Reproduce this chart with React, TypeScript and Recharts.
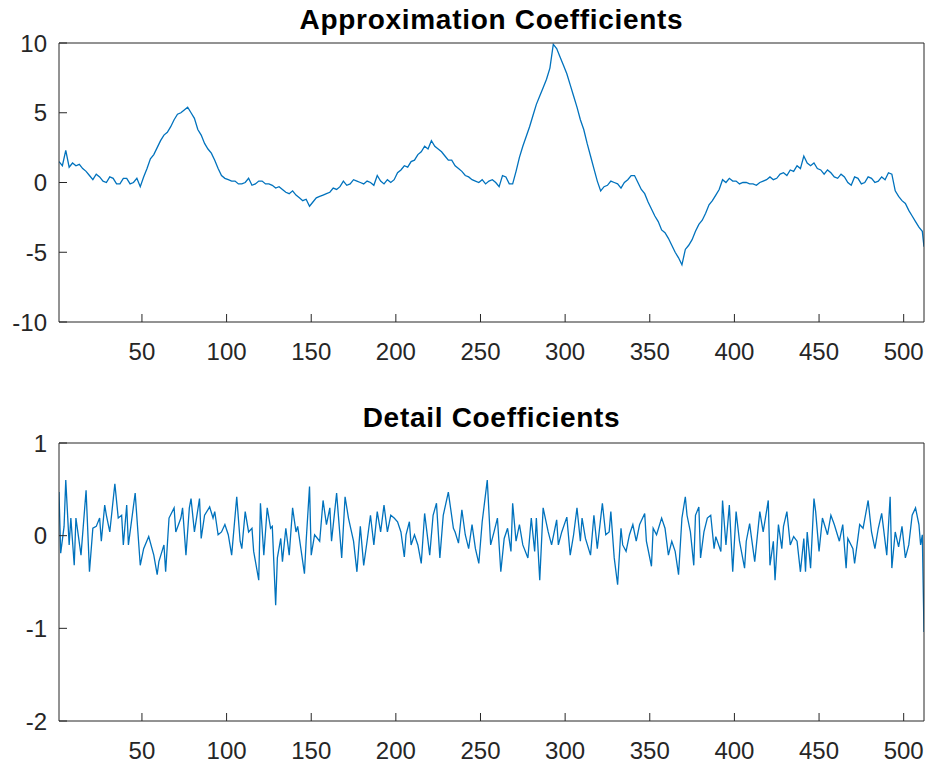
import { LineChart, Line, XAxis, YAxis } from 'recharts'

// sample index -> approximation coefficient
const approxIdx = [
  1, 3, 5, 7, 9, 11, 13, 15, 17, 19, 21, 23, 25, 27, 29, 31, 33, 35, 37, 39,
  41, 43, 45, 47, 49, 51, 53, 55, 57, 59, 61, 63, 65, 67, 69, 71, 73, 75, 77, 79,
  81, 83, 85, 87, 89, 91, 93, 95, 97, 99, 101, 103, 105, 107, 109, 111, 113, 115, 117, 119,
  121, 123, 125, 127, 129, 131, 133, 135, 137, 139, 141, 143, 145, 147, 149, 151, 153, 155, 157, 159,
  161, 163, 165, 167, 169, 171, 173, 175, 177, 179, 181, 183, 185, 187, 189, 191, 193, 195, 197, 199,
  201, 203, 205, 207, 209, 211, 213, 215, 217, 219, 221, 223, 225, 227, 229, 231, 233, 235, 237, 239,
  241, 243, 245, 247, 249, 251, 253, 255, 257, 259, 261, 263, 265, 267, 269, 271, 273, 275, 277, 279,
  281, 283, 285, 287, 289, 291, 293, 295, 297, 299, 301, 303, 305, 307, 309, 311, 313, 315, 317, 319,
  321, 323, 325, 327, 329, 331, 333, 335, 337, 339, 341, 343, 345, 347, 349, 351, 353, 355, 357, 359,
  361, 363, 365, 367, 369, 371, 373, 375, 377, 379, 381, 383, 385, 387, 389, 391, 393, 395, 397, 399,
  401, 403, 405, 407, 409, 411, 413, 415, 417, 419, 421, 423, 425, 427, 429, 431, 433, 435, 437, 439,
  441, 443, 445, 447, 449, 451, 453, 455, 457, 459, 461, 463, 465, 467, 469, 471, 473, 475, 477, 479,
  481, 483, 485, 487, 489, 491, 493, 495, 497, 499, 501, 503, 505, 507, 509, 511, 512,
]
const approxVal = [
  1.5, 1.2, 2.3, 1.1, 1.4, 1.2, 1.3, 1.0, 0.8, 0.5, 0.2, 0.6, 0.4, 0.1, 0.0, 0.4, 0.3, -0.1, -0.1, 0.3,
  0.3, -0.1, 0.0, 0.3, -0.3, 0.4, 1.0, 1.7, 2.0, 2.5, 3.0, 3.4, 3.6, 4.0, 4.5, 4.9, 5.0, 5.2, 5.4, 5.0,
  4.6, 3.8, 3.4, 2.8, 2.4, 2.1, 1.6, 1.0, 0.5, 0.3, 0.2, 0.1, 0.1, -0.1, -0.1, 0.0, 0.3, -0.2, -0.1, 0.1,
  0.1, -0.1, -0.1, -0.2, -0.4, -0.3, -0.5, -0.7, -0.8, -0.6, -0.9, -1.1, -1.3, -1.2, -1.7, -1.4, -1.1, -1.0, -0.9, -0.8,
  -0.7, -0.4, -0.5, -0.3, 0.1, -0.2, -0.1, 0.2, 0.1, 0.0, -0.1, 0.1, 0.0, -0.2, 0.5, 0.1, -0.1, 0.2, 0.0, 0.2,
  0.7, 0.9, 1.2, 1.1, 1.5, 1.6, 2.0, 2.2, 2.6, 2.4, 3.0, 2.6, 2.4, 2.2, 1.9, 1.6, 1.6, 1.2, 1.0, 0.8,
  0.5, 0.4, 0.2, 0.1, 0.0, 0.2, -0.1, 0.1, 0.2, 0.0, -0.3, 0.5, 0.4, -0.1, -0.1, 0.8, 1.8, 2.6, 3.3, 4.0,
  4.8, 5.6, 6.2, 6.8, 7.4, 8.2, 9.9, 9.6, 9.0, 8.4, 7.8, 7.0, 6.2, 5.4, 4.5, 3.8, 2.8, 1.9, 1.0, 0.1,
  -0.6, -0.3, -0.2, 0.1, 0.0, -0.1, -0.4, 0.0, 0.2, 0.5, 0.5, 0.0, -0.5, -0.8, -1.4, -1.9, -2.4, -2.8, -3.4, -3.6,
  -4.0, -4.5, -5.0, -5.4, -5.9, -4.8, -4.5, -4.1, -3.5, -3.0, -2.7, -2.2, -1.6, -1.3, -0.9, -0.5, 0.2, 0.0, 0.3, 0.1,
  0.1, -0.1, 0.0, 0.0, -0.1, -0.1, -0.2, 0.0, 0.1, 0.2, 0.4, 0.2, 0.3, 0.6, 0.7, 0.5, 0.9, 0.8, 1.2, 1.0,
  1.9, 1.4, 1.2, 1.4, 1.0, 0.9, 0.6, 0.9, 0.7, 0.4, 0.3, 0.6, 0.4, 0.0, -0.2, 0.4, 0.3, -0.1, 0.0, 0.4,
  0.3, 0.0, 0.1, 0.4, 0.2, 0.7, 0.6, -0.6, -1.0, -1.3, -1.5, -2.0, -2.4, -2.8, -3.2, -3.5, -4.6,
]

// sample index -> detail coefficient
const detailIdx = [
  1, 2, 4, 5, 7, 8, 10, 11, 14, 17, 19, 21, 23, 25, 26, 28, 29, 31, 34, 36,
  38, 39, 41, 42, 46, 49, 51, 54, 57, 59, 60, 63, 64, 66, 69, 70, 73, 74, 76, 78,
  79, 81, 84, 85, 87, 90, 92, 93, 95, 97, 99, 101, 103, 106, 108, 109, 111, 113, 115, 116,
  119, 120, 122, 124, 126, 127, 129, 130, 132, 133, 135, 137, 139, 141, 142, 146, 147, 149, 150, 152,
  155, 157, 159, 161, 162, 165, 168, 170, 172, 175, 177, 179, 181, 183, 185, 187, 189, 191, 193, 195,
  197, 199, 201, 203, 205, 206, 208, 209, 211, 213, 215, 217, 220, 222, 224, 226, 228, 231, 234, 235,
  237, 239, 241, 243, 245, 247, 249, 251, 254, 256, 258, 260, 262, 264, 266, 268, 269, 271, 273, 275,
  278, 280, 282, 283, 285, 287, 290, 292, 294, 295, 296, 298, 301, 303, 305, 307, 309, 310, 312, 315,
  317, 319, 322, 324, 326, 327, 329, 331, 333, 334, 336, 338, 340, 342, 344, 347, 348, 351, 352, 354,
  357, 359, 361, 363, 365, 367, 369, 371, 372, 374, 376, 377, 379, 380, 382, 384, 386, 388, 389, 392,
  393, 395, 397, 399, 401, 403, 406, 407, 409, 410, 412, 415, 417, 420, 421, 423, 424, 426, 428, 429,
  431, 433, 435, 437, 439, 441, 442, 443, 445, 447, 448, 450, 452, 455, 457, 459, 462, 464, 466, 467,
  470, 471, 474, 476, 479, 481, 483, 485, 487, 490, 492, 493, 495, 497, 499, 501, 503, 505, 507, 509,
  510, 511, 512,
]
const detailVal = [
  0.47, -0.19, 0.1, 0.6, -0.1, 0.19, -0.32, 0.19, -0.21, 0.49, -0.39, 0.08, 0.1, 0.19, -0.06, 0.33, 0.22, 0.04, 0.56, 0.19,
  0.22, -0.1, 0.33, -0.1, 0.46, -0.32, -0.14, -0.01, -0.21, -0.42, -0.28, -0.1, -0.39, 0.19, 0.3, 0.04, 0.19, 0.3, -0.21, 0.3,
  0.4, 0.04, 0.4, -0.03, 0.22, 0.31, 0.19, 0.26, 0.01, 0.04, 0.12, 0.01, -0.21, 0.42, -0.06, -0.14, 0.26, 0.04, 0.08, -0.17,
  -0.48, 0.35, -0.21, 0.3, 0.08, 0.1, -0.75, -0.24, -0.03, -0.28, 0.08, -0.21, 0.3, 0.04, 0.1, -0.41, -0.06, 0.53, -0.21, 0.01,
  -0.06, 0.38, 0.12, 0.3, -0.06, 0.46, -0.24, 0.42, 0.19, -0.06, -0.39, 0.1, -0.32, -0.06, 0.22, -0.1, 0.26, 0.04, 0.33, 0.04,
  0.22, 0.19, 0.15, 0.04, -0.23, 0.01, 0.15, -0.1, 0.01, -0.1, -0.3, 0.24, -0.21, 0.22, 0.35, -0.24, 0.22, 0.47, 0.08, 0.04,
  -0.08, 0.28, 0.01, -0.14, 0.12, -0.14, -0.3, 0.15, 0.6, -0.1, 0.04, 0.19, -0.39, -0.03, 0.08, -0.17, 0.35, -0.06, 0.12, -0.1,
  -0.24, 0.19, -0.17, 0.19, -0.48, 0.3, 0.04, -0.1, 0.08, 0.17, -0.1, 0.04, 0.2, -0.21, 0.01, 0.3, -0.06, 0.19, -0.03, -0.21,
  0.22, -0.14, 0.35, 0.01, 0.04, 0.26, -0.24, -0.53, 0.08, -0.1, -0.17, 0.01, 0.12, -0.06, 0.12, 0.24, -0.06, -0.33, 0.08, 0.01,
  0.19, 0.08, -0.21, -0.06, -0.17, -0.42, 0.19, 0.42, 0.22, 0.04, -0.32, 0.22, 0.31, -0.24, 0.04, 0.19, 0.22, -0.14, -0.01, -0.17,
  0.38, -0.1, 0.33, -0.39, 0.26, -0.06, -0.35, -0.06, 0.13, -0.01, -0.28, 0.26, 0.04, 0.38, -0.32, -0.06, -0.48, 0.12, -0.14, 0.1,
  0.26, -0.1, -0.01, -0.06, -0.39, -0.03, -0.39, 0.04, -0.35, 0.4, 0.26, -0.17, 0.19, 0.01, 0.22, 0.12, -0.06, 0.12, -0.35, -0.03,
  -0.14, -0.3, 0.12, 0.08, 0.38, 0.04, -0.14, 0.08, 0.24, -0.21, 0.42, -0.35, 0.04, -0.12, 0.1, -0.24, -0.1, 0.22, 0.3, 0.12,
  -0.1, 0.01, -1.04,
]

const xTicks = [50, 100, 150, 200, 250, 300, 350, 400, 450, 500]
const approxTicks = [-10, -5, 0, 5, 10]
const detailTicks = [-2, -1, 0, 1]

const approxData = approxIdx.map((idx, i) => ({ idx, v: approxVal[i] }))
const detailData = detailIdx.map((idx, i) => ({ idx, v: detailVal[i] }))

const AXIS = '#262626'
const LINE = '#0072BD'
const FONT = '"Liberation Sans", Arial, Helvetica, sans-serif'
const tickStyle = { fill: AXIS, fontSize: 24, fontFamily: FONT }

function Panel({ data, yDomain, yTicks, height, top, xAxisHeight }: any) {
  // top/right axes are 1px wide so recharts draws them: they close the box and carry the inner ticks
  return (
    <LineChart width={930} height={height} data={data} margin={{ top: top - 1, right: 5, bottom: 0, left: 0 }}>
      <XAxis xAxisId="b" dataKey="idx" type="number" domain={[1, 512]} ticks={xTicks} allowDataOverflow
        interval={0} height={xAxisHeight} stroke={AXIS} tickSize={-8} tickMargin={29} tick={tickStyle} />
      <XAxis xAxisId="t" orientation="top" dataKey="idx" type="number" domain={[1, 512]} ticks={xTicks} allowDataOverflow
        interval={0} height={1} stroke={AXIS} tickSize={-8} tick={false} />
      <YAxis yAxisId="l" type="number" domain={yDomain} ticks={yTicks} allowDataOverflow interval={0}
        width={59} stroke={AXIS} tickSize={-8} tickMargin={20} tick={tickStyle} />
      <YAxis yAxisId="r" orientation="right" type="number" domain={yDomain} ticks={yTicks} allowDataOverflow interval={0}
        width={1} stroke={AXIS} tickSize={-8} tick={false} />
      <Line xAxisId="b" yAxisId="l" dataKey="v" type="linear" stroke={LINE} strokeWidth={1.3} dot={false}
        activeDot={false} isAnimationActive={false} />
      <Line xAxisId="t" yAxisId="r" dataKey="v" type="linear" stroke="none" dot={false}
        activeDot={false} isAnimationActive={false} />
    </LineChart>
  )
}

export default function App() {
  return (
    <div style={{ position: 'absolute', left: 0, top: 0, width: 930, height: 764, background: '#fff' }}>
      <div style={{ position: 'absolute', left: 0, top: 0 }}>
        <Panel data={approxData} yDomain={[-10, 10]} yTicks={approxTicks} height={380} top={43} xAxisHeight={58} />
      </div>
      <div style={{ position: 'absolute', left: 0, top: 380 }}>
        <Panel data={detailData} yDomain={[-2, 1]} yTicks={detailTicks} height={384} top={63} xAxisHeight={43} />
      </div>
      <svg width={930} height={764} style={{ position: 'absolute', left: 0, top: 0, pointerEvents: 'none' }}>
        <text x={491.5} y={29} textAnchor="middle" fontFamily={FONT} fontWeight="bold" fontSize={28}
          letterSpacing={0.7} fill="#000">Approximation Coefficients</text>
        <text x={491.5} y={427} textAnchor="middle" fontFamily={FONT} fontWeight="bold" fontSize={28}
          letterSpacing={0.7} fill="#000">Detail Coefficients</text>
      </svg>
    </div>
  )
}
